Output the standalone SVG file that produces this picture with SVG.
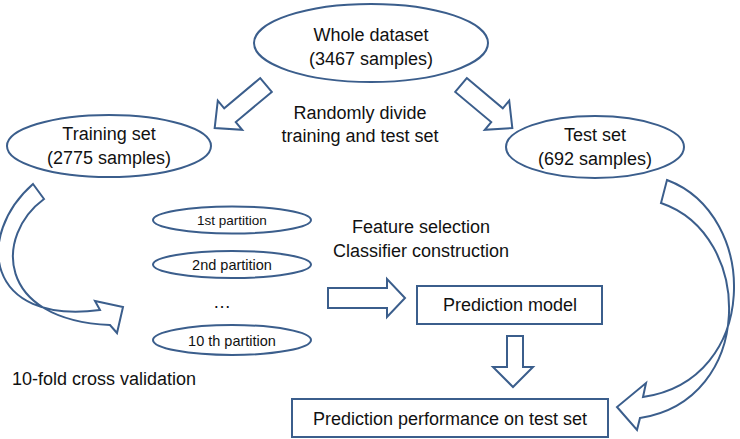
<svg xmlns="http://www.w3.org/2000/svg" width="740" height="439" viewBox="0 0 740 439">
<style>
.s{fill:#fff;stroke:#3b5e8c;stroke-width:2}
.a{fill:#fff;stroke:#3b5e8c;stroke-width:2;stroke-linejoin:miter}
text{font-family:"Liberation Sans",Arial,sans-serif;fill:#111;text-anchor:middle}
.t18{font-size:18px}
.t14{font-size:14.5px}
</style>
<rect width="740" height="439" fill="#fff"/>
<g id="connectors">
<polygon class="a" transform="translate(266,85) rotate(140)" points="0,-9 47,-9 47,-19 67,0 47,19 47,9 0,9"/>
<polygon class="a" transform="translate(461,85) rotate(40)" points="0,-9 47,-9 47,-19 67,0 47,19 47,9 0,9"/>
<path class="a" d="M33,184 L44,199 C-5,235 -5,320 110,325 L117,333 L123,307 L95,301 L100,310 C-15,325 -25,235 33,184 Z"/>
<path class="a" d="M667,180 C760,215 760,380 643,397 L646,383 L617,407 L637,430 L640,418 C755,400 755,235 661,203 Z"/>
<polygon class="a" points="328,288 387,288 387,279 405,298 387,317 387,308 328,308"/>
<polygon class="a" points="507,336 523,336 523,367 533,367 513,387 493,367 507,367"/>
</g>
<g id="whole">
<ellipse class="s" cx="371" cy="43" rx="117" ry="39"/>
<text class="t18" x="371" y="41">Whole dataset</text>
<text class="t18" x="371" y="65">(3467 samples)</text>
</g>
<g id="divide-label">
<text class="t18" x="360" y="119">Randomly divide</text>
<text class="t18" x="360" y="142">training and test set</text>
</g>
<g id="training">
<ellipse class="s" cx="109" cy="146" rx="102" ry="31"/>
<text class="t18" x="109" y="140">Training set</text>
<text class="t18" x="109" y="164">(2775 samples)</text>
</g>
<g id="test">
<ellipse class="s" cx="595" cy="147" rx="89" ry="31"/>
<text class="t18" x="595" y="141">Test set</text>
<text class="t18" x="595" y="165">(692 samples)</text>
</g>
<g id="p1">
<ellipse class="s" cx="232" cy="220" rx="79" ry="13.5"/>
<text class="t14" x="232" y="225" style="font-size:13.5px">1st partition</text>
</g>
<g id="p2">
<ellipse class="s" cx="232" cy="264.5" rx="79" ry="13.5"/>
<text class="t14" x="232" y="270">2nd partition</text>
</g>
<g id="dots">
<text class="t18" x="222" y="308">…</text>
</g>
<g id="p10">
<ellipse class="s" cx="232" cy="340" rx="79" ry="15"/>
<text class="t14" x="232" y="346">10 th partition</text>
</g>
<g id="cv-label">
<text class="t18" x="12" y="385" style="text-anchor:start">10-fold cross validation</text>
</g>
<g id="fs-label">
<text class="t18" x="421" y="233">Feature selection</text>
<text class="t18" x="421" y="257">Classifier construction</text>
</g>
<g id="model">
<rect class="s" x="417" y="286" width="185" height="38"/>
<text class="t18" x="510" y="311">Prediction model</text>
</g>
<g id="performance">
<rect class="s" x="292" y="399" width="316" height="38"/>
<text class="t18" x="450" y="425">Prediction performance on test set</text>
</g>
</svg>
